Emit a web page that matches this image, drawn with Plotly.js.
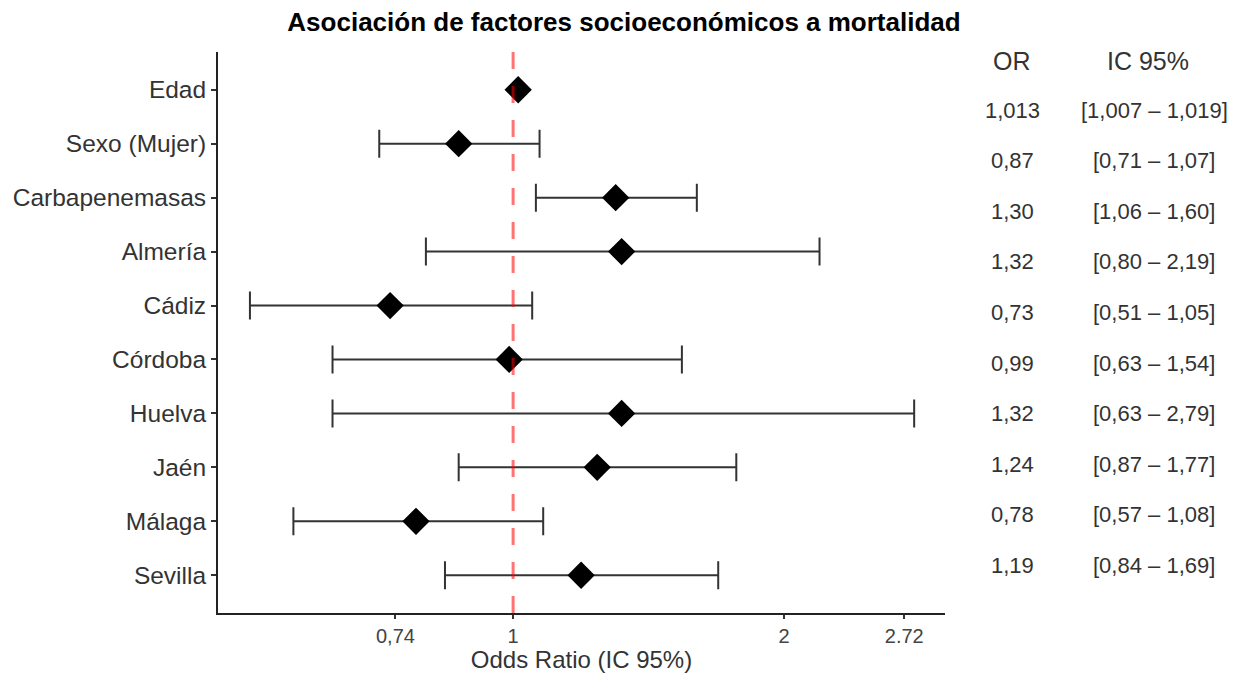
<!DOCTYPE html>
<html>
<head>
<meta charset="utf-8">
<script src="https://cdn.plot.ly/plotly-3.0.1.min.js"></script>
<style>html,body{margin:0;padding:0;background:#fff;}#chart{width:1233px;height:673px;}</style>
</head>
<body>
<div id="chart"></div>
<script>
// ---- Data ----
const categories = ['Edad','Sexo (Mujer)','Carbapenemasas','Almería','Cádiz','Córdoba','Huelva','Jaén','Málaga','Sevilla'];
const orValues = [1.013, 0.87, 1.30, 1.32, 0.73, 0.99, 1.32, 1.24, 0.78, 1.19];
const ciLower  = [1.007, 0.71, 1.06, 0.80, 0.51, 0.63, 0.63, 0.87, 0.57, 0.84];
const ciUpper  = [1.019, 1.07, 1.60, 2.19, 1.05, 1.54, 2.79, 1.77, 1.08, 1.69];
const decimals = [3, 2, 2, 2, 2, 2, 2, 2, 2, 2];
const tickVals = [0.74, 1, 2, 2.72];
const tickText = ['0,74', '1', '2', '2.72'];
const refValue = 1;

// ---- Layout helpers ----
const W = 1233, H = 673;
const M = {l: 218, r: 288, t: 52, b: 60};
const PW = W - M.l - M.r, PH = H - M.t - M.b;
const px2x = px => (px - M.l) / PW;
const py2y = py => (H - M.b - py) / PH;
const fmt = (v, d) => v.toFixed(d).replace('.', ',');

const FONT = 'Liberation Sans, Arial, Helvetica, sans-serif';

// very narrow intervals (hidden by the marker) get no caps, as in the reference
const narrow = orValues.map((v, i) => (ciUpper[i] - ciLower[i]) < 0.05);

function makeTrace(sel, capWidth) {
  const idx = orValues.map((v, i) => i).filter(i => sel(i));
  return {
    type: 'scatter',
    mode: 'markers',
    x: idx.map(i => orValues[i]),
    y: idx.map(i => categories[i]),
    marker: {symbol: 'diamond', size: 21, color: '#000000', line: {width: 0}},
    error_x: {
      type: 'data',
      symmetric: false,
      array: idx.map(i => ciUpper[i] - orValues[i]),
      arrayminus: idx.map(i => orValues[i] - ciLower[i]),
      color: '#333333',
      thickness: 2,
      width: capWidth
    },
    hoverinfo: 'x+y'
  };
}
const traces = [makeTrace(i => !narrow[i], 14), makeTrace(i => narrow[i], 0)];

const annotations = [];
annotations.push({xref: 'paper', yref: 'paper', x: px2x(1012), y: py2y(61), text: 'OR',
  showarrow: false, xanchor: 'center', yanchor: 'middle', font: {family: FONT, size: 25, color: '#333333'}});
annotations.push({xref: 'paper', yref: 'paper', x: px2x(1148), y: py2y(61), text: 'IC 95%',
  showarrow: false, xanchor: 'center', yanchor: 'middle', font: {family: FONT, size: 25, color: '#333333'}});
categories.forEach((c, i) => {
  const py = 110 + 50.6 * i;
  annotations.push({xref: 'paper', yref: 'paper', x: px2x(1012), y: py2y(py),
    text: fmt(orValues[i], decimals[i]), showarrow: false, xanchor: 'center', yanchor: 'middle',
    font: {family: FONT, size: 22, color: '#333333'}});
  annotations.push({xref: 'paper', yref: 'paper', x: px2x(1154), y: py2y(py),
    text: '[' + fmt(ciLower[i], decimals[i]) + ' – ' + fmt(ciUpper[i], decimals[i]) + ']',
    showarrow: false, xanchor: 'center', yanchor: 'middle',
    font: {family: FONT, size: 22, color: '#333333'}});
});

const layout = {
  width: W, height: H,
  margin: M,
  paper_bgcolor: '#ffffff', plot_bgcolor: '#ffffff',
  showlegend: false,
  font: {family: FONT, color: '#333333'},
  title: {
    text: '<b>Asociación de factores socioeconómicos a mortalidad</b>',
    font: {family: FONT, size: 26, color: '#000000'},
    xref: 'container', yref: 'container', x: 624 / W, y: 1 - 22 / H,
    xanchor: 'center', yanchor: 'middle'
  },
  xaxis: {
    type: 'log',
    range: [Math.log10(0.470), Math.log10(3.019)],
    tickmode: 'array', tickvals: tickVals, ticktext: tickText,
    showgrid: false, zeroline: false,
    showline: true, linecolor: '#222222', linewidth: 2,
    ticks: 'outside', ticklen: 4, tickwidth: 2, tickcolor: '#333333',
    tickfont: {family: FONT, size: 20, color: '#444444'},
    title: {text: 'Odds Ratio (IC 95%)', font: {family: FONT, size: 24, color: '#333333'}, standoff: 9}
  },
  yaxis: {
    type: 'category',
    categoryorder: 'array', categoryarray: categories,
    range: [categories.length - 0.3, -0.7],
    showgrid: false, zeroline: false,
    showline: true, linecolor: '#222222', linewidth: 2,
    ticks: 'outside', ticklen: 5, tickwidth: 2, tickcolor: '#333333',
    tickfont: {family: FONT, size: 24.5, color: '#333333'}
  },
  shapes: [{
    type: 'line', xref: 'x', yref: 'paper', x0: refValue, x1: refValue, y0: 0, y1: 1,
    line: {color: 'rgba(255,0,0,0.55)', width: 3, dash: '17px,17px'},
    layer: 'above'
  }],
  annotations: annotations
};

Plotly.newPlot('chart', traces, layout, {displayModeBar: false, staticPlot: true});
</script>
</body>
</html>
